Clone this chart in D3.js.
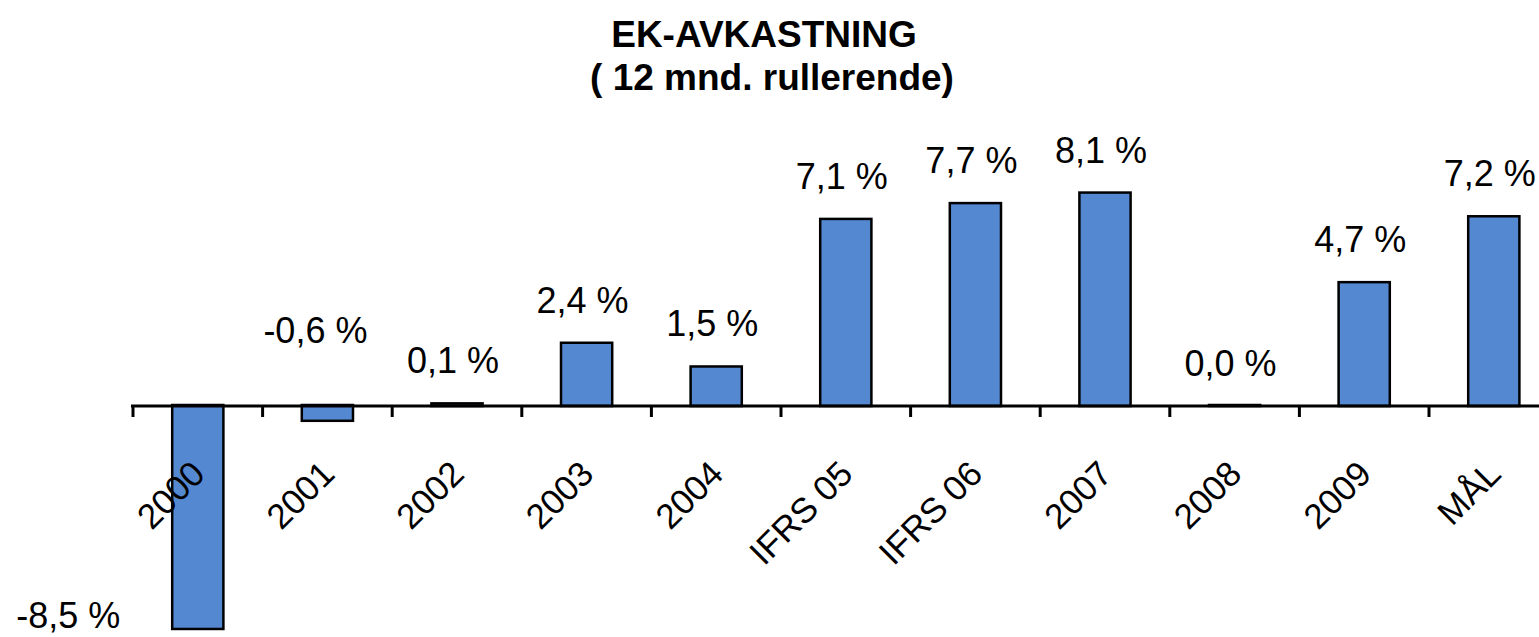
<!DOCTYPE html>
<html><head><meta charset="utf-8">
<script src="https://cdn.jsdelivr.net/npm/d3@7"></script>
<style>
html,body{margin:0;padding:0;background:#fff;overflow:hidden;}
svg{display:block;font-family:"Liberation Sans",Arial,sans-serif;}
</style></head><body>
<svg id="chart" width="1539" height="637"></svg>
<script>
const categories = ["2000","2001","2002","2003","2004","IFRS 05","IFRS 06","2007","2008","2009","MÅL"];
const values = [-8.5,-0.6,0.1,2.4,1.5,7.1,7.7,8.1,0.0,4.7,7.2];
const valueLabels = ["-8,5 %","-0,6 %","0,1 %","2,4 %","1,5 %","7,1 %","7,7 %","8,1 %","0,0 %","4,7 %","7,2 %"];
const titleLines = ["EK-AVKASTNING","( 12 mnd. rullerende)"];

const svg = d3.select("#chart");
const x = d3.scaleBand().domain(categories).range([133, 133 + 11*129.6]).paddingInner(0).paddingOuter(0);
const y = d3.scaleLinear().domain([-10, 10]).range([669.5, 142.5]);
const y0 = y(0);
const bw = x.bandwidth()*0.395;

// title
svg.append("text").attr("x",764).attr("y",47).attr("text-anchor","middle")
  .attr("font-size",37).attr("font-weight","bold").text(titleLines[0]);
svg.append("text").attr("x",772).attr("y",90).attr("text-anchor","middle")
  .attr("font-size",37).attr("font-weight","bold").text(titleLines[1]);

// bars
svg.append("g").selectAll("rect").data(values).join("rect")
  .attr("x",(d,i)=>x(categories[i]) + x.bandwidth()/2 - bw/2)
  .attr("y",d=>Math.min(y(d),y0 - 1))
  .attr("width",bw)
  .attr("height",d=>Math.max(Math.abs(y(d)-y0),1))
  .attr("fill","#5489d2")
  .attr("stroke","#000")
  .attr("stroke-width",2.5);

// axis (labels via d3 axis)
const axisG = svg.append("g").attr("transform",`translate(0,${y0})`)
  .call(d3.axisBottom(x).tickSize(0).tickPadding(0));
axisG.select(".domain").remove();
axisG.selectAll(".tick text")
  .attr("font-family","Liberation Sans, Arial, sans-serif")
  .attr("font-size",35).attr("fill","#000")
  .attr("text-anchor","end")
  .attr("dy","0")
  .attr("y",0)
  .attr("transform","translate(9,70) rotate(-45)");
// axis line + ticks at band boundaries
svg.append("line").attr("x1",131).attr("x2",1560).attr("y1",y0).attr("y2",y0)
  .attr("stroke","#000").attr("stroke-width",3);
const bounds = d3.range(categories.length+1).map(i=>x.range()[0] + i*x.step());
svg.append("g").selectAll("line").data(bounds).join("line")
  .attr("x1",d=>d).attr("x2",d=>d).attr("y1",y0).attr("y2",y0+11)
  .attr("stroke","#000").attr("stroke-width",3);

// value labels
svg.append("g").selectAll("text").data(values).join("text")
  .attr("font-size",36).attr("fill","#000")
  .attr("text-anchor",(d,i)=> (d < 0 && Math.abs(y(d)-y0) > 100) ? "end" : "middle")
  .attr("x",(d,i)=>{
    const cx = x(categories[i]) + x.bandwidth()/2;
    if (d < 0 && Math.abs(y(d)-y0) > 100) return cx - bw/2 - 52;
    if (d < 0) return cx - 12;
    return cx - 4;
  })
  .attr("y",(d,i)=>{
    if (d < 0 && Math.abs(y(d)-y0) > 100) return y(d) - 2;
    if (d < 0) return y0 - 63;
    return y(d) - 30;
  })
  .text((d,i)=>valueLabels[i]);
</script>
</body></html>
